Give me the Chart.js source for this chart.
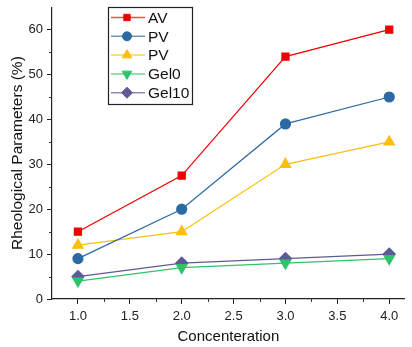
<!DOCTYPE html>
<html>
<head>
<meta charset="utf-8">
<script src="https://cdn.jsdelivr.net/npm/chart.js@4.4.1/dist/chart.umd.min.js"></script>
<style>
  html, body { margin: 0; padding: 0; background: #fff; }
  #wrap { width: 412px; height: 347px; }
</style>
</head>
<body>
<div id="wrap"><canvas id="chart"></canvas></div>
<script>
// values
const concentration = [1.0, 2.0, 3.0, 4.0];
const av = [15, 27.5, 54, 60];
const pvBlue = [9, 20, 39, 45];
const pvYellow = [12, 15, 30, 35];
const gel0 = [4, 7, 8, 9];
const gel10 = [5, 8, 9, 10];
const xTicks = [1.0, 1.5, 2.0, 2.5, 3.0, 3.5, 4.0];
const yTicks = [0, 10, 20, 30, 40, 50, 60];

const FONT = "'Liberation Sans', Arial, sans-serif";

const toPoints = (ys) => ys.map((y, i) => ({ x: concentration[i], y: y }));

const series = [
  { label: "AV", data: av, color: "#f00000", style: "rect", r: 5 },
  { label: "PV", data: pvBlue, color: "#2d6aa3", style: "circle", r: 5 },
  { label: "PV", data: pvYellow, color: "#fbbf0f", style: "triangle", r: 6 },
  { label: "Gel0", data: gel0, color: "#2fc46a", style: "triangle", r: 6, rot: 180 },
  { label: "Gel10", data: gel10, color: "#5e5a98", style: "rectRot", r: 6 },
];

// minor ticks, drawn off the scales
const minorTicks = {
  id: "minorTicks",
  afterDraw(chart) {
    const ctx = chart.ctx;
    const xs = chart.scales.x, ys = chart.scales.y;
    ctx.save();
    ctx.strokeStyle = "#333";
    ctx.lineWidth = 1;
    ctx.beginPath();
    for (let v = 1.25; v < 4.2; v += 0.5) {
      const px = Math.round(xs.getPixelForValue(v)) + 0.5;
      ctx.moveTo(px, xs.top);
      ctx.lineTo(px, xs.top + 3);
    }
    for (let v = 5; v < 65; v += 10) {
      const py = Math.round(ys.getPixelForValue(v)) + 0.5;
      ctx.moveTo(ys.right, py);
      ctx.lineTo(ys.right - 3, py);
    }
    ctx.stroke();
    ctx.restore();
  }
};

// legend box with line + marker
const boxLegend = {
  id: "boxLegend",
  afterDraw(chart) {
    const ctx = chart.ctx;
    const left = 108, top = 7, w = 84, h = 97;
    ctx.save();
    ctx.fillStyle = "#fff";
    ctx.fillRect(left, top, w, h);
    ctx.strokeStyle = "#222";
    ctx.lineWidth = 1.2;
    ctx.strokeRect(left + 0.5, top + 0.5, w, h);
    chart.data.datasets.forEach((ds, i) => {
      const cy = 17.5 + i * 18.8;
      ctx.strokeStyle = ds.borderColor;
      ctx.globalAlpha = 0.7;
      ctx.lineWidth = 1.5;
      ctx.beginPath();
      ctx.moveTo(111, cy);
      ctx.lineTo(145, cy);
      ctx.stroke();
      ctx.globalAlpha = 1;
      ctx.fillStyle = ds.pointBackgroundColor;
      ctx.strokeStyle = ds.pointBackgroundColor;
      ctx.lineWidth = 1;
      Chart.helpers.drawPoint(ctx, {
        pointStyle: ds.pointStyle, radius: ds.pointRadius - 0.5,
        rotation: ds.pointRotation, borderWidth: 1
      }, 127, cy);
      ctx.fillStyle = "#111";
      ctx.font = "15.5px " + FONT;
      ctx.textBaseline = "middle";
      ctx.textAlign = "left";
      ctx.fillText(ds.label, 148, cy + 1);
    });
    ctx.restore();
  }
};

new Chart(document.getElementById("chart"), {
  type: "line",
  data: {
    datasets: series.map(s => ({
      label: s.label,
      data: toPoints(s.data),
      borderColor: s.color,
      backgroundColor: s.color,
      pointBackgroundColor: s.color,
      pointBorderColor: s.color,
      pointStyle: s.style,
      pointRadius: s.r,
      pointRotation: s.rot || 0,
      borderWidth: 1.2,
      tension: 0,
      clip: false,
    }))
  },
  options: {
    responsive: true,
    maintainAspectRatio: false,
    animation: false,
    layout: { padding: { top: 6, right: 7, left: 0, bottom: 0 } },
    plugins: { legend: { display: false }, tooltip: { enabled: false } },
    scales: {
      x: {
        type: "linear",
        min: 0.75,
        max: 4.15,
        afterBuildTicks: (scale) => { scale.ticks = xTicks.map(v => ({ value: v })); },
        afterFit: (scale) => { scale.height = 48; scale.paddingLeft = 0; scale.paddingRight = 0; },
        border: { color: "#222", width: 1.2 },
        grid: { drawOnChartArea: false, tickLength: 5, color: "#222" },
        ticks: {
          color: "#222", padding: 5,
          font: { family: FONT, size: 13 },
          callback: (v) => Number(v).toFixed(1),
        },
        title: {
          display: true, text: "Concenteration", color: "#111",
          font: { family: FONT, size: 15 }, padding: { top: 0, bottom: 1 },
        },
      },
      y: {
        min: 0,
        max: 65,
        afterBuildTicks: (scale) => { scale.ticks = yTicks.map(v => ({ value: v })); },
        afterFit: (scale) => { scale.width = 52; scale.paddingTop = 0; scale.paddingBottom = 0; },
        border: { color: "#222", width: 1.2 },
        grid: { drawOnChartArea: false, tickLength: 5, color: "#222" },
        ticks: {
          color: "#222", padding: 4,
          font: { family: FONT, size: 13 },
        },
        title: {
          display: true, text: "Rheological Parameters (%)", color: "#111",
          font: { family: FONT, size: 15.5 }, padding: { top: 8, bottom: 0 },
        },
      },
    },
  },
  plugins: [minorTicks, boxLegend],
});
</script>
</body>
</html>
